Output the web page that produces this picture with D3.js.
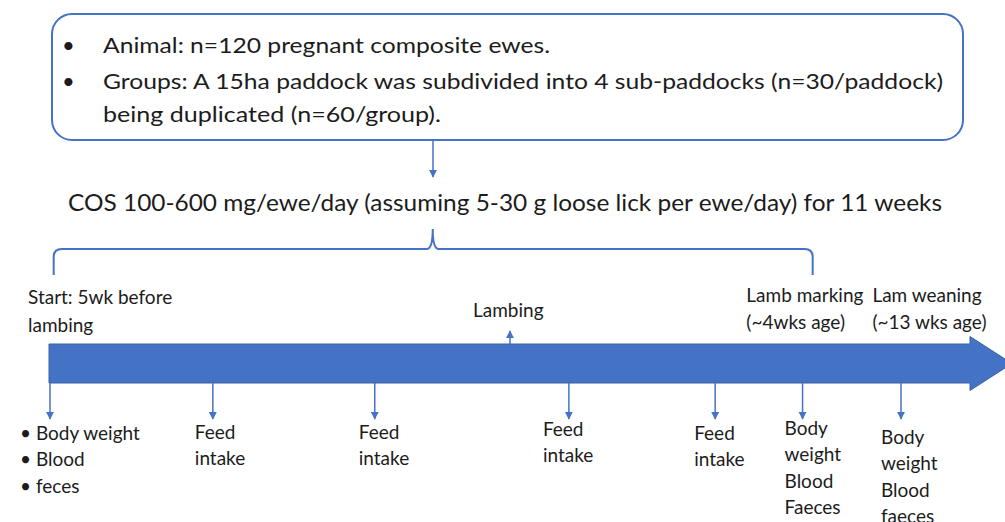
<!DOCTYPE html>
<html>
<head>
<meta charset="utf-8">
<script src="https://cdn.jsdelivr.net/npm/d3@7"></script>
<style>
  body { margin: 0; background: #fff; }
  text { font-family: Lato, "Open Sans", sans-serif; fill: #1c1c1c; }
</style>
</head>
<body>
<script>
// Data /////////////////////////////////////////////////////////////////////

const boxLines = [
  { bullet: true, text: "Animal: n=120 pregnant composite ewes." },
  { bullet: true, text: "Groups: A 15ha paddock was subdivided into 4 sub-paddocks (n=30/paddock)" },
  { bullet: false, text: "being duplicated (n=60/group)." },
];
const treatmentText =
  "COS 100-600 mg/ewe/day (assuming 5-30 g loose lick per ewe/day) for 11 weeks";

// position along the timeline arrow, 0 = start, 100 = arrow head
const samplingPos = [0, 17.7, 35.3, 56.4, 72.3, 81.8, 92.5];
const samplingLabels = [
  ["• Body weight", "• Blood", "• feces"],
  ["Feed", "intake"],
  ["Feed", "intake"],
  ["Feed", "intake"],
  ["Feed", "intake"],
  ["Body", "weight", "Blood", "Faeces"],
  ["Body", "weight", "Blood", "faeces"],
];
const labelOffsetX = [-30, -18, -16, -26, -21, -18, -20];
const labelOffsetY = [433, 432, 432, 429, 433, 428, 437];

const eventPos = [0, 50, 75.8, 89.5];
const eventLabels = [
  ["Start: 5wk before", "lambing"],
  ["Lambing"],
  ["Lamb marking", "(~4wks age)"],
  ["Lam weaning", "(~13 wks age)"],
];
const bracePos = [0.4, 41.6, 82.9];

// Layout ///////////////////////////////////////////////////////////////////

const width = 1005;
const height = 522;
const blue = "#4472c4";

const svg = d3
  .select("body")
  .append("svg")
  .attr("width", width)
  .attr("height", height);

const x = d3.scaleLinear().domain([0, 100]).range([50, 970]);

svg
  .append("defs")
  .append("marker")
  .attr("id", "head")
  .attr("viewBox", "0 0 10 10")
  .attr("refX", 9)
  .attr("refY", 5)
  .attr("markerWidth", 5.5)
  .attr("markerHeight", 5.5)
  .attr("orient", "auto")
  .append("path")
  .attr("d", "M0,0 L10,5 L0,10 z")
  .attr("fill", blue);

drawBox(svg.append("g"));
drawTreatment(svg.append("g"));
drawTimeline(svg.append("g"));
drawEvents(svg.append("g"));
drawSampling(svg.append("g"));

// Box //////////////////////////////////////////////////////////////////////

function drawBox(root) {
  root
    .append("rect")
    .attr("x", 52)
    .attr("y", 14)
    .attr("width", 911)
    .attr("height", 126)
    .attr("rx", 20)
    .attr("fill", "none")
    .attr("stroke", blue)
    .attr("stroke-width", 2);

  const lineY = [45, 81, 114];
  const lineW = [447, 840, 338];

  boxLines.forEach((l, i) => {
    if (l.bullet) {
      root
        .append("text")
        .attr("x", 62)
        .attr("y", lineY[i])
        .attr("dy", "0.35em")
        .style("font-size", "22px")
        .text("•");
    }
    root
      .append("text")
      .attr("x", 103)
      .attr("y", lineY[i])
      .attr("dy", "0.35em")
      .attr("textLength", lineW[i])
      .attr("lengthAdjust", "spacingAndGlyphs")
      .style("font-size", "22px")
      .text(l.text);
  });

  root
    .append("line")
    .attr("x1", 433)
    .attr("x2", 433)
    .attr("y1", 141)
    .attr("y2", 177)
    .attr("stroke", blue)
    .attr("stroke-width", 1.5)
    .attr("marker-end", "url(#head)");
}

// Treatment ////////////////////////////////////////////////////////////////

function drawTreatment(root) {
  root
    .append("text")
    .attr("x", 68)
    .attr("y", 203)
    .attr("dy", "0.35em")
    .attr("textLength", 874)
    .attr("lengthAdjust", "spacingAndGlyphs")
    .style("font-size", "24px")
    .text(treatmentText);

  const [l, m, r] = bracePos.map(x);
  const top = 249;
  const bottom = 275;
  const d = [
    `M${l},${bottom}`,
    `L${l},${top + 8}`,
    `Q${l},${top} ${l + 8},${top}`,
    `L${m - 6},${top}`,
    `Q${m},${top} ${m},${top - 20}`,
    `Q${m},${top} ${m + 6},${top}`,
    `L${r - 8},${top}`,
    `Q${r},${top} ${r},${top + 8}`,
    `L${r},${bottom}`,
  ].join(" ");
  root
    .append("path")
    .attr("d", d)
    .attr("fill", "none")
    .attr("stroke", blue)
    .attr("stroke-width", 2);
}

// Timeline /////////////////////////////////////////////////////////////////

function drawTimeline(root) {
  const x0 = x(0) - 1;
  const x1 = x(100);
  const y0 = 344;
  const y1 = 383;
  const mid = (y0 + y1) / 2;
  root
    .append("path")
    .attr(
      "d",
      `M${x0},${y0} L${x1},${y0} L${x1},${mid - 27} L${x1 + 42},${mid} ` +
        `L${x1},${mid + 27} L${x1},${y1} L${x0},${y1} Z`
    )
    .attr("fill", blue)
    .attr("stroke", "#3a62a8")
    .attr("stroke-width", 1);
}

// Events ///////////////////////////////////////////////////////////////////

function drawEvents(root) {
  const pos = [
    { dx: -22, y: [297, 325] },
    { dx: -37, y: [310] },
    { dx: -1, y: [295, 322] },
    { dx: -1, y: [295, 322] },
  ];
  eventLabels.forEach((lines, i) => {
    lines.forEach((t, j) => {
      root
        .append("text")
        .attr("x", x(eventPos[i]) + pos[i].dx)
        .attr("y", pos[i].y[j])
        .attr("dy", "0.35em")
        .style("font-size", "19px")
        .text(t);
    });
  });

  // lambing arrow points up
  root
    .append("line")
    .attr("x1", x(eventPos[1]))
    .attr("x2", x(eventPos[1]))
    .attr("y1", 344)
    .attr("y2", 331)
    .attr("stroke", blue)
    .attr("stroke-width", 1.5)
    .attr("marker-end", "url(#head)");
}

// Sampling /////////////////////////////////////////////////////////////////

function drawSampling(root) {
  samplingPos.forEach((p, i) => {
    const cx = x(p);
    root
      .append("line")
      .attr("x1", cx)
      .attr("x2", cx)
      .attr("y1", 383)
      .attr("y2", 419)
      .attr("stroke", blue)
      .attr("stroke-width", 1.5)
      .attr("marker-end", "url(#head)");

    samplingLabels[i].forEach((t, j) => {
      root
        .append("text")
        .attr("x", cx + labelOffsetX[i])
        .attr("y", labelOffsetY[i] + j * 26.5)
        .attr("dy", "0.35em")
        .style("font-size", "19px")
        .text(t);
    });
  });
}
</script>
</body>
</html>
